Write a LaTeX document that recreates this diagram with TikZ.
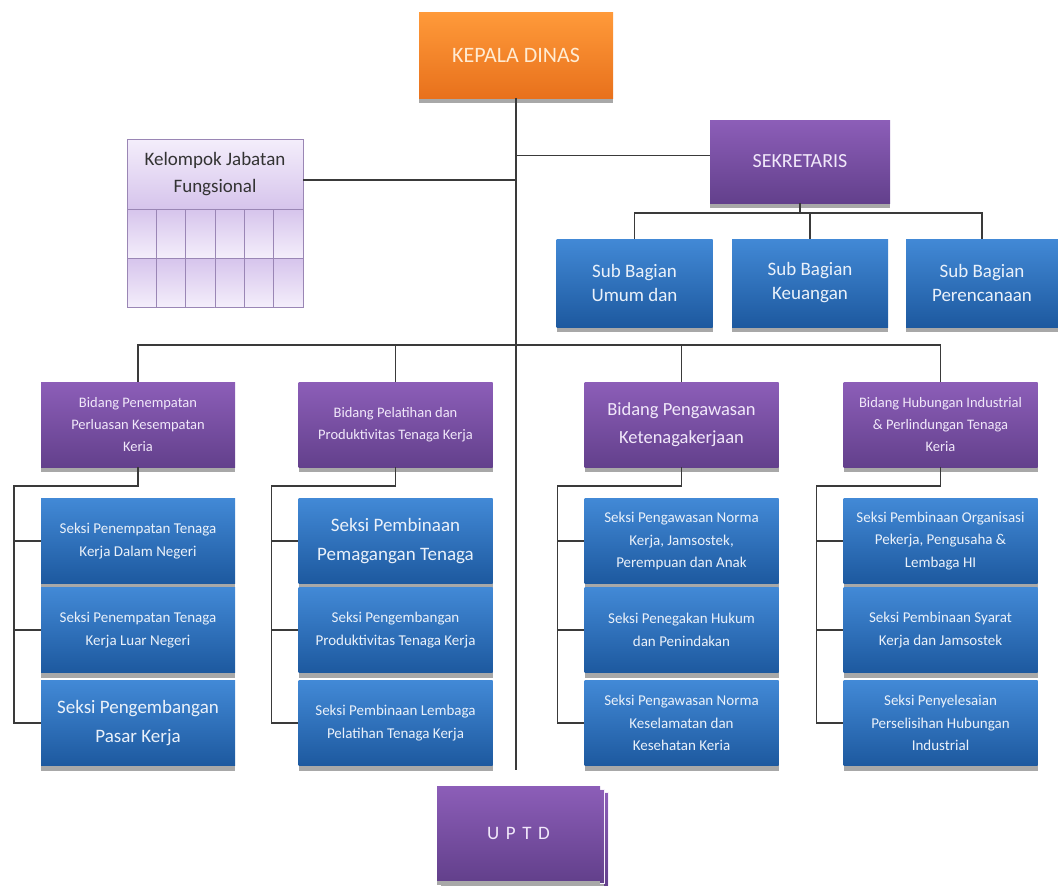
\documentclass[tikz,border=0pt]{standalone}
\usepackage{fontspec}
\setmainfont{Carlito}
\newfontfamily\spacedfont[LetterSpace=35]{Carlito}
\usetikzlibrary{
  calc
}
\definecolor{linegrey}{HTML}{3A3A3A}
\definecolor{boxshadow}{HTML}{A8A8A8}
\definecolor{orangetop}{HTML}{FF9A3A}
\definecolor{orangebottom}{HTML}{E8711C}
\definecolor{orangetext}{HTML}{FFEBD2}
\definecolor{purpletop}{HTML}{8C5EB8}
\definecolor{purplebottom}{HTML}{63408C}
\definecolor{purpletext}{HTML}{F1E8FA}
\definecolor{bluetop}{HTML}{4289D6}
\definecolor{bluebottom}{HTML}{1D599F}
\definecolor{bluetext}{HTML}{EAF1FA}
\definecolor{lavtop}{HTML}{F4EEFB}
\definecolor{lavbottom}{HTML}{D6C4EC}
\definecolor{lavline}{HTML}{9A86B5}
\tikzset{
  org box/.style={
    inner sep=2pt,
    align=center,
    preaction={fill=boxshadow, transform canvas={yshift=-5pt}}
  },
  head box/.style={
    org box,
    top color=orangetop, bottom color=orangebottom,
    text=orangetext,
    minimum width=194pt, minimum height=86pt,
    font=\fontsize{22}{26}\selectfont
  },
  purple box/.style={
    org box,
    top color=purpletop, bottom color=purplebottom,
    text=purpletext
  },
  blue box/.style={
    org box,
    top color=bluetop, bottom color=bluebottom,
    text=bluetext
  },
  bidang box/.style={
    purple box,
    minimum width=194pt, minimum height=85pt,
    font=\fontsize{14.5}{22}\selectfont
  },
  sub box/.style={
    blue box,
    minimum width=156pt, minimum height=88pt,
    font=\fontsize{19}{24}\selectfont
  },
  seksi box/.style={
    blue box,
    minimum width=194pt, minimum height=85pt,
    font=\fontsize{15}{22.5}\selectfont
  },
  big text/.style={
    font=\fontsize{19}{29}\selectfont
  },
  lav cell/.style={
    draw=lavline, line width=0.8pt,
    top color=lavbottom, bottom color=lavtop
  },
  connector/.style={
    draw=linegrey,
    line width=1.6pt
  }
}

\begin{document}
\begin{tikzpicture}[x=1pt, y=-1pt]
  \useasboundingbox (0,0) rectangle (1058,886);

  % top
  \node[head box] (kepala) at (516,55) {KEPALA DINAS};
  \node[purple box, minimum width=180pt, minimum height=83pt,
    font=\fontsize{20}{24}\selectfont] (sekr) at (800,161.5) {SEKRETARIS};

  % kelompok jabatan fungsional
  \foreach \i in {0,...,5}
    \foreach \j in {0,1}
      \draw[lav cell] ({127+\i*29.33},{209+\j*49}) rectangle ++(29.33,49);
  \node[lav cell, top color=lavtop, bottom color=lavbottom,
    minimum width=176pt, minimum height=70pt, align=center,
    text=black!80, font=\fontsize{19}{27}\selectfont]
    (kjf) at (215,174) {Kelompok Jabatan\\Fungsional};

  \node[sub box] (sub1) at (634.5,283) {Sub Bagian\\Umum dan};
  \node[sub box] (sub2) at (810,283) {Sub Bagian\\Keuangan};
  \node[sub box, minimum width=152pt] (sub3) at (982,283) {Sub Bagian\\Perencanaan};

  % bidang
  \node[bidang box] (b1) at (138,424.5)
    {Bidang Penempatan\\Perluasan Kesempatan\\Keria};
  \node[bidang box] (b2) at (395.5,424.5)
    {Bidang Pelatihan dan\\Produktivitas Tenaga Kerja};
  \node[bidang box, font=\fontsize{18.5}{28}\selectfont] (b3) at (681.5,424.5)
    {Bidang Pengawasan\\Ketenagakerjaan};
  \node[bidang box] (b4) at (940.5,424.5)
    {Bidang Hubungan Industrial\\\& Perlindungan Tenaga\\Keria};

  % seksi
  \node[seksi box] (s1a) at (138,541) {Seksi Penempatan Tenaga\\Kerja Dalam Negeri};
  \node[seksi box] (s1b) at (138,630) {Seksi Penempatan Tenaga\\Kerja Luar Negeri};
  \node[seksi box, big text] (s1c) at (138,723) {Seksi Pengembangan\\Pasar Kerja};

  \node[seksi box, big text] (s2a) at (395.5,541) {Seksi Pembinaan\\Pemagangan Tenaga};
  \node[seksi box] (s2b) at (395.5,630) {Seksi Pengembangan\\Produktivitas Tenaga Kerja};
  \node[seksi box] (s2c) at (395.5,723) {Seksi Pembinaan Lembaga\\Pelatihan Tenaga Kerja};

  \node[seksi box] (s3a) at (681.5,541)
    {Seksi Pengawasan Norma\\Kerja, Jamsostek,\\Perempuan dan Anak};
  \node[seksi box] (s3b) at (681.5,630) {Seksi Penegakan Hukum\\dan Penindakan};
  \node[seksi box] (s3c) at (681.5,723)
    {Seksi Pengawasan Norma\\Keselamatan dan\\Kesehatan Keria};

  \node[seksi box] (s4a) at (940.5,541)
    {Seksi Pembinaan Organisasi\\Pekerja, Pengusaha \&\\Lembaga HI};
  \node[seksi box] (s4b) at (940.5,630) {Seksi Pembinaan Syarat\\Kerja dan Jamsostek};
  \node[seksi box] (s4c) at (940.5,723)
    {Seksi Penyelesaian\\Perselisihan Hubungan\\Industrial};

  % uptd
  \node[purple box, draw=purpletext!60, minimum width=163pt, minimum height=94pt]
    (uptd3) at (526.5,839) {};
  \node[purple box, draw=purpletext!60, minimum width=163pt, minimum height=94pt]
    (uptd2) at (522.5,836) {};
  \node[purple box, minimum width=163pt, minimum height=94pt,
    font=\spacedfont\fontsize{19}{22}\selectfont] (uptd) at (518.5,833) {UPTD};

  % lines
  \coordinate (mainend) at (516,770);
  \draw[connector] (kepala.south) -- (mainend);
  \draw[connector] ($(kepala.south |- sekr.west)+(0,-6)$) -- ($(sekr.west)+(0,-6)$);
  \draw[connector] ($(kjf.east)+(0,6)$) -- ($(kepala.south |- kjf.east)+(0,6)$);

  \draw[connector] (sekr.south) -- ++(0,10);
  \draw[connector] (sub1.north) -- ++(0,-26) -| (sub3.north);
  \draw[connector] (sub2.north) -- ++(0,-26);

  \draw[connector] (b1.north) -- ++(0,-37) -| (b4.north);
  \draw[connector] (b2.north) -- ++(0,-37);
  \draw[connector] (b3.north) -- ++(0,-37);

  \foreach \g in {1,...,4} {
    \draw[connector] (b\g.south) -- ++(0,19) -| ($(s\g c.west)+(-27,0)$) -- (s\g c.west);
    \draw[connector] ($(s\g a.west)+(-27,0)$) -- (s\g a.west);
    \draw[connector] ($(s\g b.west)+(-27,0)$) -- (s\g b.west);
  }
\end{tikzpicture}
\end{document}
